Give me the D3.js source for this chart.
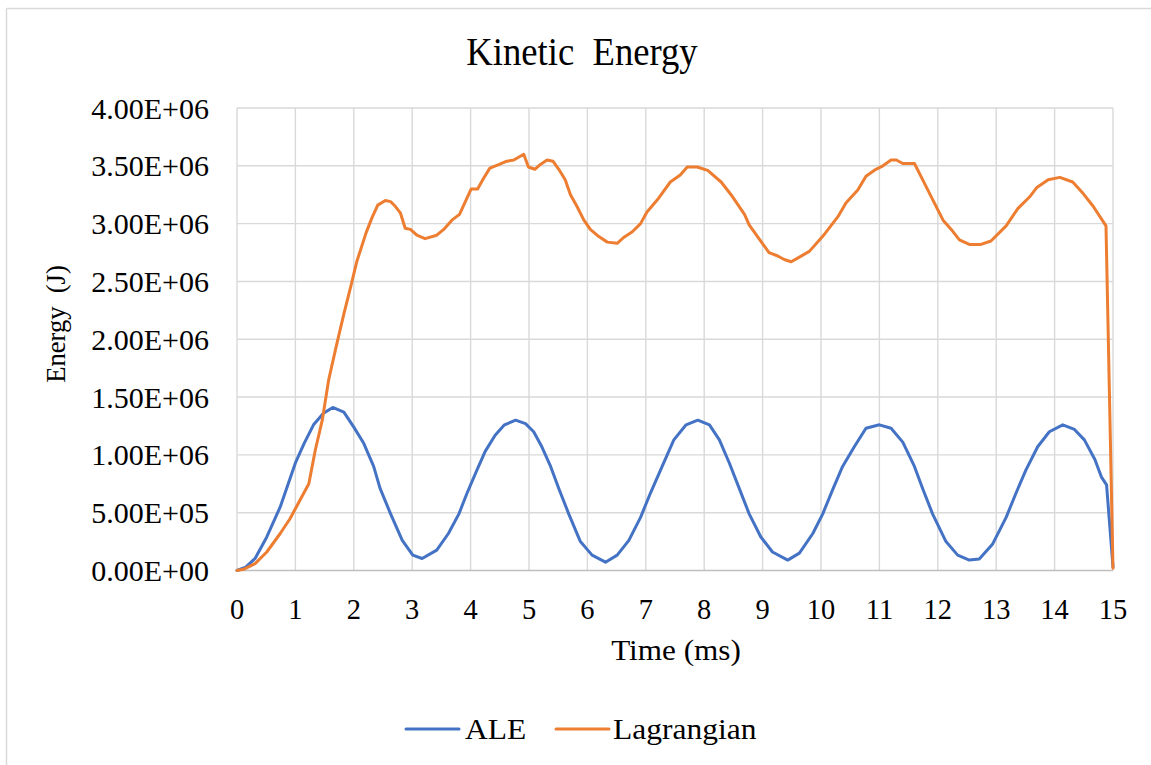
<!DOCTYPE html>
<html>
<head>
<meta charset="utf-8">
<script src="https://cdn.jsdelivr.net/npm/d3@7"></script>
<style>
  html, body { margin: 0; padding: 0; background: #fff; }
  svg text { white-space: pre; }
</style>
</head>
<body>
<svg id="chart" width="1151" height="765"></svg>
<script>
const titleText = "Kinetic  Energy";
const xTitle = "Time (ms)";
const yTitle = "Energy  (J)";
const seriesNames = ["ALE", "Lagrangian"];
const xTicks = [0,1,2,3,4,5,6,7,8,9,10,11,12,13,14,15];
const yTicks = [0, 500000, 1000000, 1500000, 2000000, 2500000, 3000000, 3500000, 4000000];
const yTickLabels = ["0.00E+00","5.00E+05","1.00E+06","1.50E+06","2.00E+06","2.50E+06","3.00E+06","3.50E+06","4.00E+06"];

const aleTime = [0,0.15,0.31,0.51,0.74,1.0,1.15,1.31,1.48,1.64,1.83,2.0,2.17,2.34,2.45,2.63,2.83,3.01,3.17,3.42,3.62,3.80,3.94,4.11,4.25,4.42,4.58,4.77,4.94,5.08,5.22,5.37,5.51,5.68,5.88,6.08,6.31,6.51,6.71,6.91,7.08,7.28,7.48,7.69,7.89,8.09,8.26,8.43,8.60,8.77,8.97,9.17,9.43,9.63,9.86,10.03,10.2,10.37,10.57,10.77,11.0,11.2,11.4,11.6,11.74,11.91,12.14,12.34,12.54,12.71,12.94,13.17,13.34,13.51,13.71,13.91,14.14,14.34,14.51,14.69,14.8,14.89,15.0];
const aleEnergy = [0,30000,104000,290000,550000,930000,1100000,1260000,1360000,1410000,1370000,1240000,1100000,900000,710000,490000,260000,133000,104000,176000,320000,490000,670000,870000,1030000,1170000,1260000,1300000,1270000,1200000,1070000,900000,710000,490000,250000,133000,72000,133000,260000,460000,670000,900000,1130000,1260000,1300000,1260000,1130000,930000,710000,490000,290000,160000,90000,150000,320000,490000,700000,900000,1070000,1230000,1260000,1230000,1110000,900000,710000,490000,250000,133000,90000,100000,230000,460000,670000,870000,1070000,1200000,1260000,1220000,1130000,960000,810000,740000,30000];

const lagTime = [0,0.11,0.31,0.51,0.74,0.91,1.08,1.23,1.34,1.46,1.57,1.70,1.83,1.94,2.05,2.21,2.31,2.41,2.54,2.63,2.71,2.80,2.88,2.97,3.08,3.22,3.42,3.54,3.68,3.81,3.91,4.01,4.12,4.22,4.33,4.48,4.62,4.74,4.91,4.99,5.10,5.19,5.31,5.41,5.51,5.62,5.71,5.82,5.94,6.05,6.19,6.34,6.51,6.62,6.77,6.91,7.02,7.22,7.42,7.59,7.71,7.88,8.06,8.29,8.46,8.69,8.77,8.91,9.11,9.26,9.37,9.49,9.63,9.8,10.03,10.29,10.43,10.63,10.77,10.94,11.06,11.2,11.29,11.4,11.6,11.74,11.91,12.09,12.23,12.37,12.54,12.74,12.91,13.17,13.37,13.57,13.69,13.89,14.09,14.31,14.49,14.66,14.88,15.0];
const lagEnergy = [0,10000,60000,160000,320000,450000,610000,750000,1040000,1300000,1650000,1940000,2220000,2440000,2670000,2920000,3050000,3160000,3200000,3190000,3150000,3090000,2960000,2950000,2900000,2870000,2900000,2950000,3030000,3080000,3190000,3300000,3300000,3390000,3480000,3510000,3540000,3550000,3600000,3490000,3470000,3510000,3550000,3540000,3470000,3380000,3250000,3150000,3030000,2950000,2890000,2840000,2830000,2880000,2930000,3000000,3100000,3220000,3360000,3420000,3490000,3490000,3460000,3360000,3250000,3080000,2990000,2890000,2750000,2720000,2690000,2670000,2710000,2760000,2890000,3060000,3180000,3290000,3410000,3470000,3500000,3550000,3550000,3520000,3520000,3380000,3210000,3030000,2950000,2860000,2820000,2820000,2850000,2980000,3130000,3230000,3310000,3380000,3400000,3360000,3260000,3150000,2980000,20000];

const colors = ["#4472C4", "#ED7D31"];
const FONT = "'Liberation Serif', 'Times New Roman', Times, serif";

const svg = d3.select("#chart");
const plot = {left: 237, right: 1113, top: 108, bottom: 570.5};

const x = d3.scaleLinear().domain([0, 15]).range([plot.left, plot.right]);
const y = d3.scaleLinear().domain([0, 4000000]).range([plot.bottom, plot.top]);

// outer frame (left and top edges visible)
svg.append("line").attr("x1", 6.5).attr("x2", 6.5).attr("y1", 8.5).attr("y2", 765).attr("stroke", "#d9d9d9").attr("stroke-width", 1.5);
svg.append("line").attr("x1", 6.5).attr("x2", 1151).attr("y1", 8.5).attr("y2", 8.5).attr("stroke", "#d9d9d9").attr("stroke-width", 1.5);

function addText(px, py, str, size, anchor, sx, rot) {
  return svg.append("text")
    .attr("transform", `translate(${px},${py}) rotate(${rot || 0}) scale(${sx},1)`)
    .attr("text-anchor", anchor)
    .attr("font-family", FONT)
    .attr("font-size", size)
    .attr("fill", "#000")
    .style("font-family", FONT)
    .text(str);
}

// gridlines
const grid = svg.append("g");
grid.selectAll("line.v").data(xTicks).enter().append("line")
  .attr("x1", d => x(d)).attr("x2", d => x(d))
  .attr("y1", plot.top).attr("y2", plot.bottom)
  .attr("stroke", "#d9d9d9").attr("stroke-width", 1.4);
grid.selectAll("line.h").data(yTicks).enter().append("line")
  .attr("x1", plot.left).attr("x2", plot.right)
  .attr("y1", d => y(d)).attr("y2", d => y(d))
  .attr("stroke", d => d === 0 ? "#bfbfbf" : "#d9d9d9").attr("stroke-width", d => d === 0 ? 1.6 : 1.4);

// tick labels
yTicks.forEach((d, i) => addText(209, y(d) + 10.5, yTickLabels[i], 30, "end", 1.0));
xTicks.forEach(d => addText(x(d), 619, String(d), 30, "middle", 0.95));

// titles
addText(582, 65, titleText, 39, "middle", 0.94);
addText(676, 660, xTitle, 30, "middle", 1.04);
addText(65, 324, yTitle, 28, "middle", 0.95, -90);

// series
const line = d3.line().x(d => x(d[0])).y(d => y(d[1]));
const aleData = aleTime.map((t, i) => [t, aleEnergy[i]]);
const lagData = lagTime.map((t, i) => [t, lagEnergy[i]]);
[aleData, lagData].forEach((data, i) => {
  svg.append("path").datum(data)
    .attr("d", line)
    .attr("fill", "none")
    .attr("stroke", colors[i])
    .attr("stroke-width", 3)
    .attr("stroke-linejoin", "round")
    .attr("stroke-linecap", "round");
});

// legend
const legendItems = [{x1: 406, x2: 459, tx: 465}, {x1: 556, x2: 609, tx: 613}];
legendItems.forEach((it, i) => {
  svg.append("line").attr("x1", it.x1).attr("x2", it.x2).attr("y1", 729).attr("y2", 729)
    .attr("stroke", colors[i]).attr("stroke-width", 3).attr("stroke-linecap", "round");
  addText(it.tx, 739, seriesNames[i], 30, "start", 1.05);
});
</script>
</body>
</html>
